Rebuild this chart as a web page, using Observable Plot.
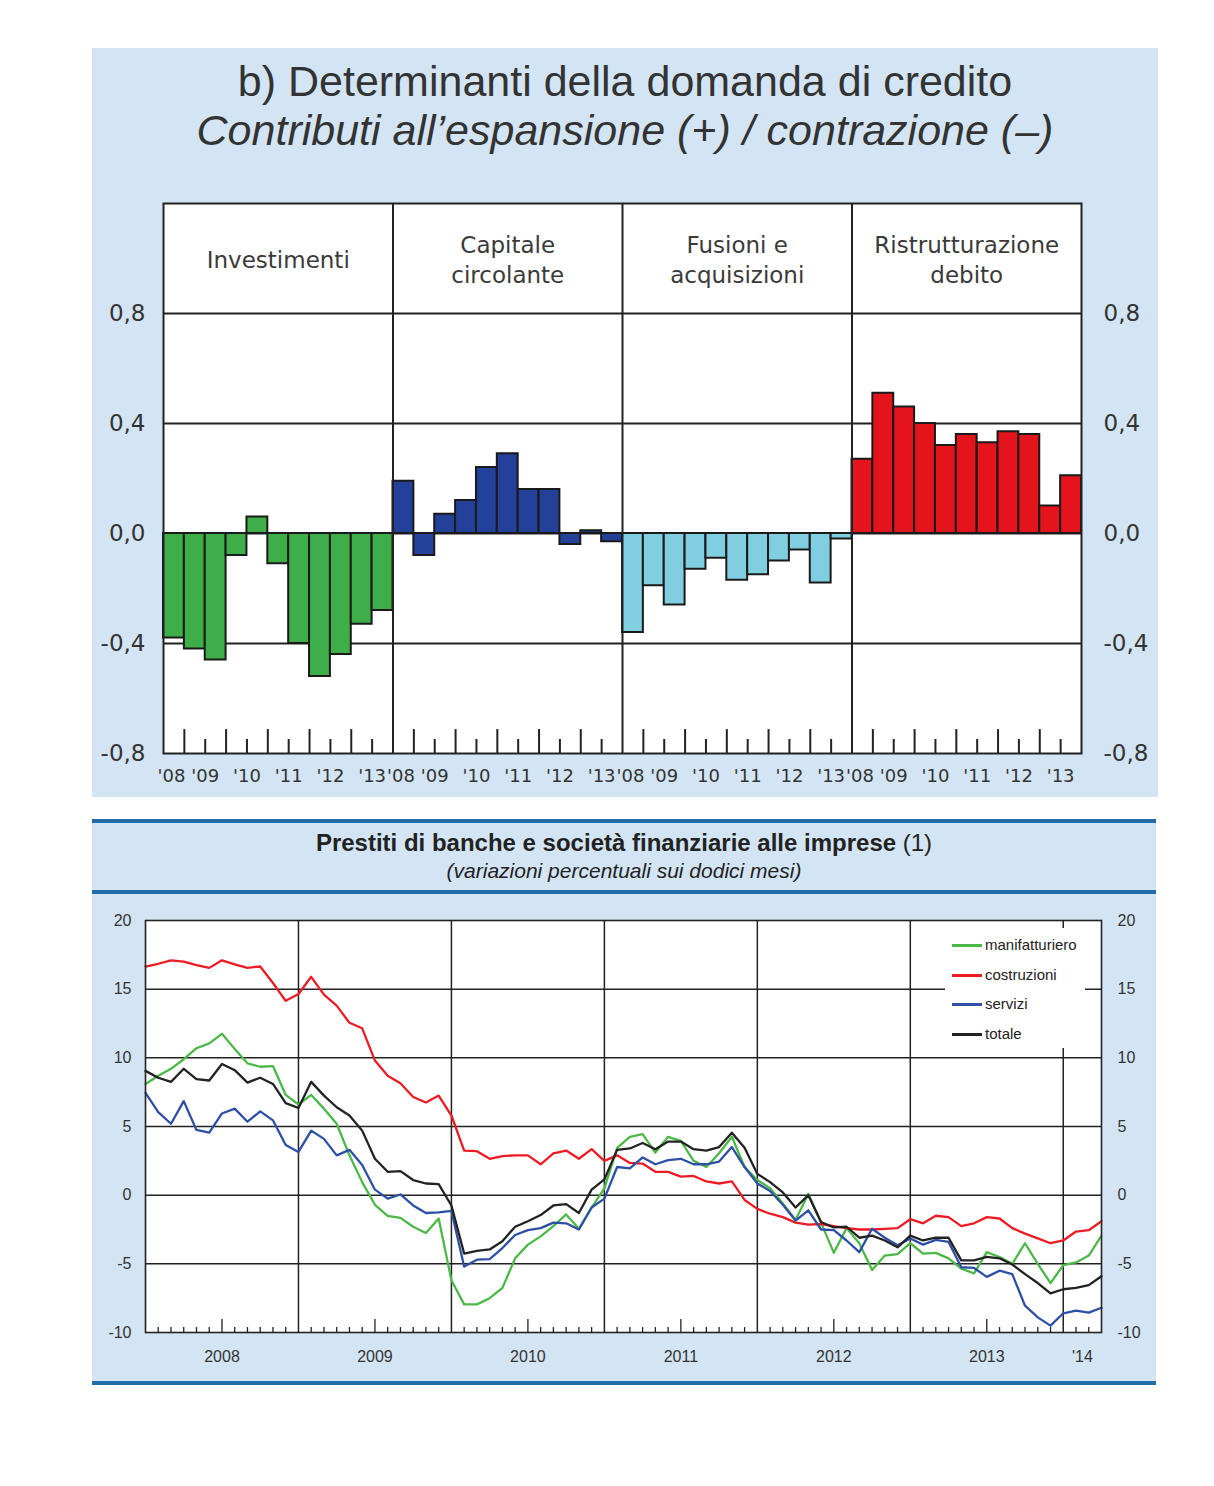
<!DOCTYPE html>
<html>
<head>
<meta charset="utf-8">
<script src="https://cdn.jsdelivr.net/npm/d3@7"></script>
<script src="https://cdn.jsdelivr.net/npm/@observablehq/plot@0.6"></script>
<style>
html,body{margin:0;padding:0;background:#fff;}
body{position:relative;width:1214px;height:1486px;overflow:hidden;font-family:"Liberation Sans",Arial,sans-serif;color:#333;}
.abs{position:absolute;}
#topbg{left:92px;top:48px;width:1066px;height:749px;background:#d3e5f4;}
#t1{left:92px;width:1066px;top:60px;text-align:center;font-size:43px;line-height:43px;color:#333;white-space:nowrap;}
#t2{left:92px;width:1066px;top:109px;text-align:center;font-size:43px;line-height:43px;font-style:italic;color:#333;white-space:nowrap;}
#topchart{left:92px;top:190px;}
#botbg{left:92px;top:819px;width:1064px;height:566px;background:#d3e5f4;}
.bl{left:92px;width:1064px;height:4px;background:#1f6ca8;}
#b1{left:92px;width:1064px;top:831px;text-align:center;font-size:24px;line-height:24px;color:#222;white-space:nowrap;}
#b1 b{font-weight:bold;}
#b2{left:92px;width:1064px;top:860px;text-align:center;font-size:21px;line-height:21px;font-style:italic;color:#222;white-space:nowrap;}
#botchart{left:92px;top:900px;}
#legend{left:945px;top:928px;width:140px;height:120px;background:#fff;}
.lgrow{position:absolute;left:0;height:20px;width:140px;}
.lgsw{position:absolute;left:7px;top:9px;width:30px;height:3px;}
.lgtx{position:absolute;left:40px;top:1px;font-size:15px;line-height:18px;color:#222;}
</style>
</head>
<body>
<div id="topbg" class="abs"></div>
<div id="t1" class="abs">b) Determinanti della domanda di credito</div>
<div id="t2" class="abs">Contributi all’espansione (+) / contrazione (–)</div>
<div id="topchart" class="abs"></div>

<div id="botbg" class="abs"></div>
<div class="abs bl" style="top:819px"></div>
<div class="abs bl" style="top:890px"></div>
<div class="abs bl" style="top:1381px"></div>
<div id="b1" class="abs"><b>Prestiti di banche e società finanziarie alle imprese</b> (1)</div>
<div id="b2" class="abs">(variazioni percentuali sui dodici mesi)</div>
<div id="botchart" class="abs"></div>
<div id="legend" class="abs"></div>

<script>
// ---------- Top chart data (semiannual, 2008 H1 – 2013 H1) ----------
const panelNames = ["Investimenti", "Capitale\ncircolante", "Fusioni e\nacquisizioni", "Ristrutturazione\ndebito"];
const investimenti = [-0.38, -0.42, -0.46, -0.08, 0.06, -0.11, -0.40, -0.52, -0.44, -0.33, -0.28];
const capitaleCircolante = [0.19, -0.08, 0.07, 0.12, 0.24, 0.29, 0.16, 0.16, -0.04, 0.01, -0.03];
const fusioniAcquisizioni = [-0.36, -0.19, -0.26, -0.13, -0.09, -0.17, -0.15, -0.10, -0.06, -0.18, -0.02];
const ristrutturazioneDebito = [0.27, 0.51, 0.46, 0.40, 0.32, 0.36, 0.33, 0.37, 0.36, 0.10, 0.21];
const panelColors = ["#3eae48", "#24419a", "#7fcfe0", "#e3141c"];
const yearLabelsTop = ["'08", "'09", "'10", "'11", "'12", "'13"];
const yTicksTop = [-0.8, -0.4, 0, 0.4, 0.8];
const gridTop = [0.8, 0.4, 0, -0.4];

// ---------- Bottom chart data (monthly, Dec 2007 – Mar 2014) ----------
const manifatturiero = [8.1, 8.7, 9.2, 9.9, 10.7, 11.05, 11.75, 10.65, 9.6, 9.35, 9.4, 7.3,
  6.6, 7.3, 6.3, 5.2, 2.9, 0.95, -0.7, -1.5, -1.65, -2.3, -2.75, -1.7,
  -6.2, -7.95, -7.95, -7.5, -6.75, -4.6, -3.6, -3.0, -2.25, -1.4, -2.45, -0.9,
  0.5, 3.45, 4.25, 4.45, 3.1, 4.25, 3.95, 2.5, 2.05, 3.05, 4.25, 2.05,
  1.1, 0.5, -0.6, -1.8, 0.1, -2.0, -4.2, -2.4, -3.5, -5.45, -4.4, -4.3,
  -3.5, -4.25, -4.2, -4.6, -5.35, -5.7, -4.15, -4.5, -5.0, -3.5, -5.0, -6.4,
  -5.1, -4.9, -4.4, -2.95];
const costruzioni = [16.65, 16.85, 17.1, 17.0, 16.75, 16.55, 17.1, 16.8, 16.55, 16.65, 15.45, 14.15,
  14.65, 15.9, 14.6, 13.8, 12.55, 12.15, 9.8, 8.7, 8.15, 7.15, 6.75, 7.25,
  5.8, 3.25, 3.2, 2.65, 2.85, 2.9, 2.9, 2.25, 3.05, 3.25, 2.65, 3.35,
  2.5, 2.9, 2.35, 2.3, 1.7, 1.7, 1.35, 1.4, 1.0, 0.85, 1.0, -0.35,
  -1.0, -1.35, -1.6, -2.0, -2.15, -2.1, -2.25, -2.4, -2.5, -2.5, -2.45, -2.4,
  -1.75, -2.05, -1.5, -1.6, -2.25, -2.05, -1.6, -1.7, -2.4, -2.8, -3.15, -3.5,
  -3.3, -2.65, -2.55, -1.9];
const servizi = [7.45, 6.05, 5.2, 6.85, 4.75, 4.55, 5.95, 6.3, 5.35, 6.1, 5.45, 3.65,
  3.15, 4.7, 4.1, 2.9, 3.3, 2.2, 0.4, -0.25, 0.05, -0.75, -1.3, -1.25,
  -1.15, -5.2, -4.7, -4.65, -3.85, -2.9, -2.55, -2.4, -2.0, -2.05, -2.5, -0.9,
  -0.25, 2.05, 1.95, 2.75, 2.25, 2.55, 2.65, 2.25, 2.25, 2.45, 3.5, 2.05,
  0.85, 0.3, -0.7, -1.85, -1.1, -2.5, -2.55, -3.3, -4.15, -2.45, -3.1, -3.65,
  -3.15, -3.6, -3.25, -3.4, -5.25, -5.3, -5.95, -5.5, -5.75, -8.05, -8.9, -9.5,
  -8.6, -8.4, -8.55, -8.2];
const totale = [9.05, 8.55, 8.25, 9.2, 8.45, 8.35, 9.55, 9.1, 8.2, 8.55, 8.1, 6.7,
  6.35, 8.25, 7.25, 6.4, 5.8, 4.7, 2.65, 1.7, 1.75, 1.1, 0.85, 0.8,
  -0.75, -4.25, -4.05, -3.95, -3.35, -2.3, -1.9, -1.45, -0.75, -0.65, -1.3, 0.4,
  1.15, 3.3, 3.4, 3.8, 3.35, 3.9, 3.9, 3.35, 3.25, 3.5, 4.55, 3.45,
  1.55, 0.95, 0.2, -0.9, 0.0, -1.95, -2.35, -2.3, -3.1, -2.95, -3.3, -3.8,
  -2.95, -3.3, -3.1, -3.1, -4.75, -4.75, -4.5, -4.6, -5.05, -5.75, -6.4, -7.15,
  -6.85, -6.75, -6.55, -5.9];
const seriesNames = ["manifatturiero", "costruzioni", "servizi", "totale"];
const seriesColors = ["#4cb848", "#ec1c24", "#2e50a4", "#222222"];
const yearLabelsBottom = ["2008", "2009", "2010", "2011", "2012", "2013", "'14"];
const yTicksBottom = [-10, -5, 0, 5, 10, 15, 20];
const gridBottom = [15, 10, 5, 0, -5];

// ---------- Top chart ----------
const panelSeries = [investimenti, capitaleCircolante, fusioniAcquisizioni, ristrutturazioneDebito];
const nPer = investimenti.length; // 11 half-years per panel
const nPanels = panelSeries.length;
const fmtTop = d => (d < 0 ? "-" : "") + Math.abs(d).toFixed(1).replace(".", ",");

const topTicks = [];
for (let p = 0; p < nPanels; p++) for (let j = 1; j < nPer; j++) topTicks.push({x: p * nPer + j, long: j % 2 === 1});
const topLabels = [];
for (let p = 0; p < nPanels; p++) yearLabelsTop.forEach((l, k) => topLabels.push({x: p * nPer + 2 * k, l, first: k === 0}));
const separators = d3.range(1, nPanels).map(p => p * nPer);

const topPlot = Plot.plot({
  width: 1066, height: 607,
  marginLeft: 71, marginRight: 77, marginTop: 13, marginBottom: 44,
  x: {domain: [0, nPer * nPanels], axis: null},
  y: {domain: [-0.8, 1.2]},
  style: {background: "transparent", fontFamily: "DejaVu Sans, Verdana, sans-serif", color: "#333", overflow: "visible"},
  marks: [
    Plot.frame({fill: "white", stroke: null}),
    Plot.ruleY(gridTop, {stroke: "#222", strokeWidth: 1.8}),
    ...panelSeries.map((vals, p) => Plot.rectY(vals, {
      x1: (d, i) => p * nPer + i, x2: (d, i) => p * nPer + i + 1,
      y1: 0, y2: d => d, fill: panelColors[p], stroke: "#1a1a1a", strokeWidth: 2
    })),
    Plot.ruleX(topTicks, {x: "x", y1: -0.8, y2: d => -0.8 + (d.long ? 0.087 : 0.051), stroke: "#222", strokeWidth: 2}),
    Plot.ruleX(separators, {y1: -0.8, y2: 1.2, stroke: "#222", strokeWidth: 2}),
    Plot.frame({stroke: "#222", strokeWidth: 2}),
    Plot.text(panelNames, {x: (d, i) => i * nPer + nPer / 2, y: 1.0, text: d => d, fontSize: 23, lineHeight: 1.3, fill: "#3a3a3a"}),
    Plot.axisY({anchor: "left", ticks: yTicksTop, tickSize: 0, tickPadding: 18, tickFormat: fmtTop, fontSize: 23, fill: "#333", label: null}),
    Plot.axisY({anchor: "right", ticks: yTicksTop, tickSize: 0, tickPadding: 22, tickFormat: fmtTop, fontSize: 23, fill: "#333", label: null}),
    Plot.text(topLabels.filter(d => !d.first), {x: "x", y: -0.8, text: "l", dy: 23, fontSize: 18, fill: "#333"}),
    Plot.text(topLabels.filter(d => d.first), {x: "x", y: -0.8, text: "l", dy: 23, dx: 8, fontSize: 18, fill: "#333"})
  ]
});
document.getElementById("topchart").appendChild(topPlot);

// ---------- Bottom chart ----------
const allSeries = [manifatturiero, costruzioni, servizi, totale];
const nM = manifatturiero.length - 1; // 75 month steps
const yearBounds = d3.range(12, nM, 12);
const monthTicks = d3.range(1, nM).filter(i => i % 12 !== 0).map(i => ({x: i, long: i % 12 === 6}));
const bottomLabels = yearLabelsBottom.map((l, k) => ({l, x: k < 6 ? 12 * k + 6 : (72 + nM) / 2}));
const fmtBot = d => (d < 0 ? "-" : "") + Math.abs(d);

const botPlot = Plot.plot({
  width: 1063, height: 475,
  marginLeft: 53, marginRight: 54, marginTop: 20, marginBottom: 43,
  x: {domain: [0, nM], axis: null},
  y: {domain: [-10, 20]},
  style: {background: "transparent", fontFamily: "Liberation Sans, Arial, sans-serif", color: "#333", overflow: "visible"},
  marks: [
    Plot.frame({fill: "white", stroke: null}),
    Plot.ruleY(gridBottom, {stroke: "#222", strokeWidth: 1.5}),
    Plot.ruleX(yearBounds, {y1: -10, y2: 20, stroke: "#222", strokeWidth: 1.5}),
    Plot.ruleX(monthTicks, {x: "x", y1: -10, y2: d => -10 + (d.long ? 0.95 : 0.36), stroke: "#222", strokeWidth: 1.3}),
    ...allSeries.map((vals, s) => Plot.line(vals, {x: (d, i) => i, y: d => d, stroke: seriesColors[s], strokeWidth: 2.3})),
    Plot.frame({stroke: "#222", strokeWidth: 1.6}),
    Plot.axisY({anchor: "left", ticks: yTicksBottom, tickSize: 0, tickPadding: 14, tickFormat: fmtBot, fontSize: 16, fill: "#333", label: null}),
    Plot.axisY({anchor: "right", ticks: yTicksBottom, tickSize: 0, tickPadding: 16, tickFormat: fmtBot, fontSize: 16, fill: "#333", label: null}),
    Plot.text(bottomLabels, {x: "x", y: -10, text: "l", dy: 24, fontSize: 16, fill: "#333"})
  ]
});
document.getElementById("botchart").appendChild(botPlot);

// ---------- Legend ----------
const lg = document.getElementById("legend");
seriesNames.forEach((n, k) => {
  const row = document.createElement("div");
  row.className = "lgrow";
  row.style.top = (7 + k * 29.5) + "px";
  row.innerHTML = `<div class="lgsw" style="background:${seriesColors[k]}"></div><div class="lgtx">${n}</div>`;
  lg.appendChild(row);
});
</script>
</body>
</html>
